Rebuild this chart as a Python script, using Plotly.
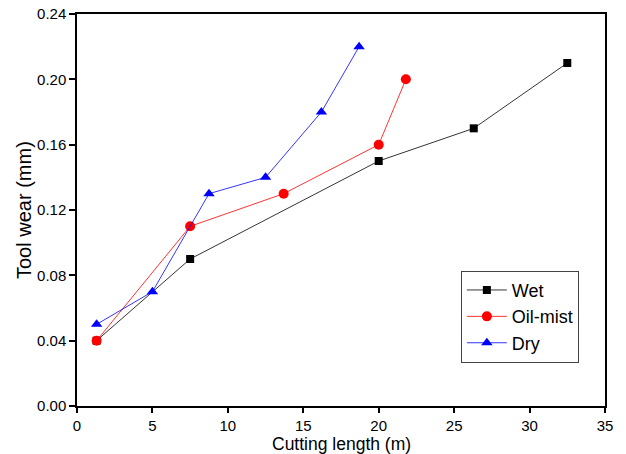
import plotly.graph_objects as go

wet_x = [1.3, 7.5, 20.0, 26.3, 32.5]
wet_y = [0.04, 0.09, 0.15, 0.17, 0.21]
oil_x = [1.3, 7.5, 13.7, 20.0, 21.8]
oil_y = [0.04, 0.11, 0.13, 0.16, 0.20]
dry_x = [1.3, 5.0, 8.75, 12.5, 16.2, 18.7]
dry_y = [0.05, 0.07, 0.13, 0.14, 0.18, 0.22]

x_ticks = [0, 5, 10, 15, 20, 25, 30, 35]
y_ticks = [0.00, 0.04, 0.08, 0.12, 0.16, 0.20, 0.24]

font = "Liberation Sans, Arial, sans-serif"

fig = go.Figure()
fig.add_trace(go.Scatter(x=wet_x, y=wet_y, name="Wet", mode="lines+markers",
                         line=dict(color="black", width=0.8),
                         marker=dict(symbol="square", size=8, color="black")))
fig.add_trace(go.Scatter(x=oil_x, y=oil_y, name="Oil-mist", mode="lines+markers",
                         line=dict(color="red", width=0.8),
                         marker=dict(symbol="circle", size=10, color="red")))
fig.add_trace(go.Scatter(x=dry_x, y=dry_y, name="Dry", mode="lines+markers",
                         line=dict(color="blue", width=0.8),
                         marker=dict(symbol="triangle-up", size=10, color="blue")))

fig.update_layout(
    width=626, height=454,
    margin=dict(l=77, r=21, t=14, b=48, autoexpand=False),
    paper_bgcolor="white", plot_bgcolor="white",
    font=dict(family=font, size=15, color="black"),
    legend=dict(x=0.727, y=0.345, xanchor="left", yanchor="top",
                bordercolor="#444", borderwidth=1, bgcolor="white",
                font=dict(size=18), tracegroupgap=0, itemwidth=40),
    showlegend=True,
    annotations=[
        dict(text="Cutting length (m)", xref="paper", yref="paper",
             x=0.5, y=0, yshift=-38, xanchor="center", yanchor="middle",
             showarrow=False, font=dict(size=17.5)),
        dict(text="Tool wear (mm)", xref="paper", yref="paper",
             x=0, y=0.5, xshift=-53, xanchor="center", yanchor="middle",
             textangle=-90, showarrow=False, font=dict(size=20)),
    ],
)
fig.update_xaxes(range=[0, 35], tickvals=x_ticks, ticktext=[str(v) for v in x_ticks],
                 automargin=False,
                 showgrid=False, zeroline=False, showline=True, linecolor="black",
                 linewidth=1.5, mirror=True, ticks="outside", ticklen=5, tickwidth=1.5,
                 tickcolor="black", tickfont=dict(size=15))
fig.update_yaxes(range=[0, 0.24], tickvals=y_ticks, ticktext=[f"{v:.2f}" for v in y_ticks],
                 automargin=False,
                 showgrid=False, zeroline=False, showline=True, linecolor="black",
                 linewidth=1.5, mirror=True, ticks="outside", ticklen=6, tickwidth=1.5,
                 tickcolor="black", tickfont=dict(size=15))

fig.write_html("out.html")
